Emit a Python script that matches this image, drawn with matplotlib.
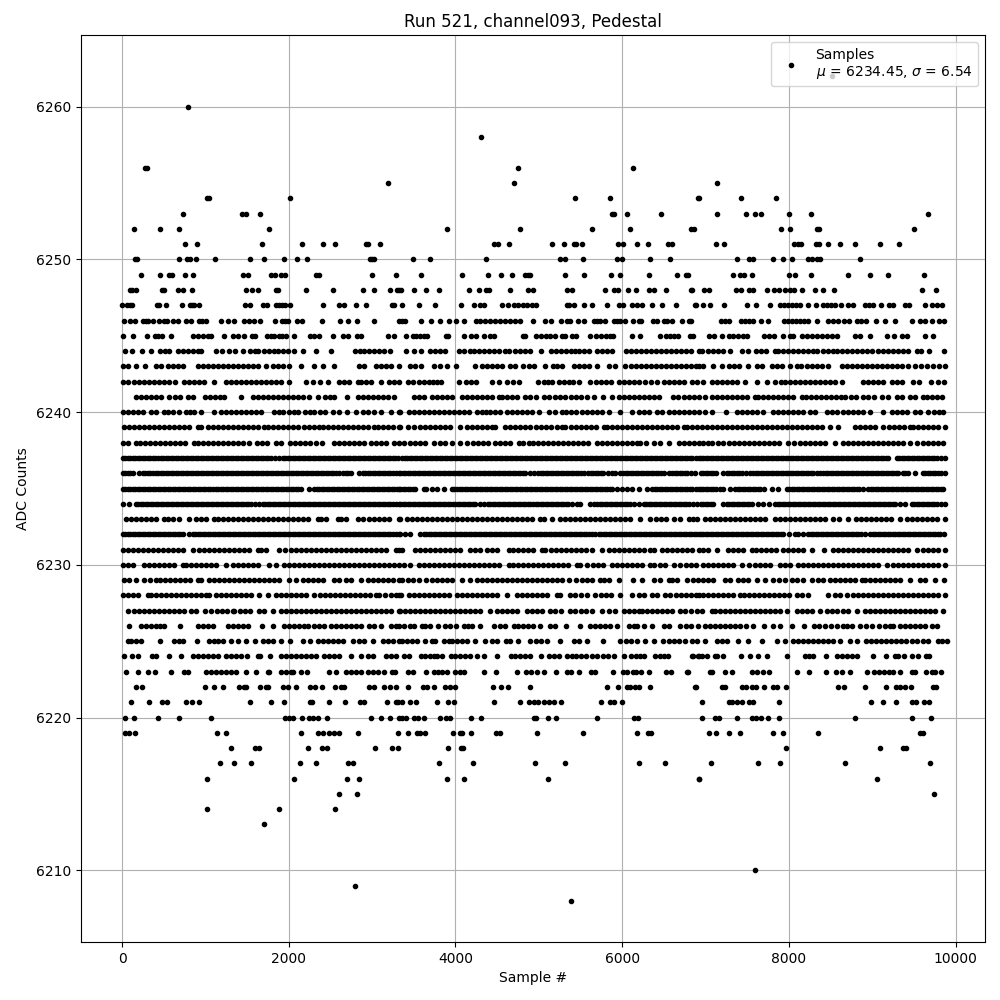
# -*- coding: utf-8 -*-
import numpy as np
import matplotlib
matplotlib.use('Agg')
import matplotlib.pyplot as plt

# sample numbers, one list per ADC level
s6262 = [8521]
s6260 = [795]
s6258 = [4301]
s6256 = [272,304,4745,6135]
s6255 = [3187,4697,7141]
s6254 = [1015,1047,2013,5431,5851,6919,6913,7429,7849]
s6253 = [731,1434,1486,1654,5879,5907,6055,6463,7141,7489,7597,7669,8005,8269,9673]
s6252 = [144,456,683,1762,3895,4771,5635,6091,6829,6865,7909,8017,8341,8365,9505]
s6251 = [755,899,1678,2157,2408,2552,2924,2952,3091,4459,4507,4639,5155,5299,5419,5443,5515,5947,6007,6175,6307,6547,6595,7129,7225,8065,8113,8149,8329,8365,8473,8617,8797,9097,9325]
s6250 = [160,184,683,783,811,891,1115,1534,1702,1941,2097,2217,2972,3000,3028,3487,3691,4363,5251,5311,5527,5935,5999,6331,6571,7381,7525,7573,7813,7933,8041,8233,8281,8341,8377,8857]
s6249 = [228,456,567,603,755,851,1450,1510,1785,1833,1905,1953,2325,2361,3000,3283,3583,4075,4387,4543,4675,4831,4867,4899,5311,5539,5863,5971,6319,6655,6763,6793,7333,7417,7465,7561,8005,8077,8269,8713,8977,9193,9625]
s6248 = [96,124,172,480,504,671,731,839,1486,1562,1630,1845,1869,2205,2528,2888,3020,3211,3295,3319,3347,3499,3643,3799,4159,4279,4363,4399,4651,4867,4927,5335,5395,5791,5899,5947,6067,6163,6319,6379,6523,6829,6835,6985,7045,7369,7429,7525,7573,7741,7825,7885,7957,8017,8065,8161,8317,8413,8545,9601,9769]
s6247 = [1,64,96,124,420,444,528,719,815,839,863,923,1474,1534,1690,1738,1845,1881,1917,1949,2013,2408,2600,2660,2804,2924,3235,3259,3359,3559,3751,4063,4219,4291,4339,4555,4627,4699,4747,4807,4855,4915,4963,5335,5359,5419,5539,5635,5815,5959,6007,6115,6175,6235,6355,6475,6643,6877,6883,6973,7057,7225,7501,7609,7777,7897,7945,7993,8041,8089,8137,8233,8329,8413,8461,8509,8557,8629,8713,8773,8917,8965,9013,9109,9205,9253,9397,9445,9637,9721,9781,9841]
s6246 = [17,96,156,252,284,312,376,444,504,543,611,671,767,827,923,959,1007,1187,1271,1343,1462,1522,1582,1654,1833,1917,1953,1989,2097,2157,2396,2612,2708,2816,3020,3319,3359,3395,3583,3703,3811,3919,4003,4099,4243,4299,4359,4419,4479,4539,4599,4659,4719,4779,4927,5071,5143,5263,5339,5379,5467,5539,5659,5699,5739,5791,5899,5939,5979,6039,6127,6199,6231,6367,6419,6499,6539,6595,6715,6799,6827,7189,7237,7285,7429,7477,7525,7573,7669,7753,7945,7993,8041,8089,8137,8185,8233,8341,8473,8533,8593,8665,8725,8821,8869,8929,9049,9157,9277,9481,9577,9637,9721,9805,9865]
s6245 = [5,136,300,396,432,480,591,851,911,971,1031,1067,1223,1331,1391,1462,1558,1594,1737,1781,1821,1881,1921,1969,2061,2252,2300,2361,2528,2648,2708,2816,2864,3187,3259,3403,3487,3527,3571,3619,3659,3883,3907,4099,4183,4243,4339,4411,4459,4807,4831,4963,5023,5083,5139,5199,5279,5319,5395,5443,5611,5683,5743,5803,5851,5887,6115,6211,6455,6523,6571,6619,6667,6811,6847,7045,7105,7201,7285,7333,7393,7453,7501,7705,7765,7825,7933,8017,8053,8161,8221,8281,8341,8401,8461,8521,8581,8797,8857,8977,9181,9265,9361,9421,9637,9733]
s6244 = [33,113,241,345,457,510,565,665,725,785,845,905,945,1125,1193,1285,1357,1453,1533,1590,1625,1705,1765,1825,1865,1925,1985,2065,2173,2325,2509,2797,2850,2905,2965,3025,3085,3145,3217,3403,3499,3583,3699,3760,3810,3871,4039,4100,4179,4219,4280,4340,4400,4460,4520,4599,4639,4719,4779,4840,4899,5031,5147,5210,5270,5330,5390,5439,5479,5540,5599,5699,5760,5820,5879,6051,6110,6170,6230,6290,6350,6410,6470,6530,6590,6650,6710,6770,6830,6919,6953,7033,7090,7150,7210,7293,7433,7513,7605,7670,7730,7833,7873,7930,7993,8045,8105,8165,8225,8285,8333,8413,8470,8533,8573,8635,8695,8753,8813,8875,8935,8995,9073,9133,9195,9255,9315,9375,9435,9533,9589,9685,9865]
s6243 = [5,65,165,277,405,465,545,605,665,725,905,965,1025,1085,1145,1205,1265,1325,1385,1445,1505,1565,1625,1725,1805,1865,1925,2005,2141,2305,2405,2545,2845,2905,3045,3105,3165,3225,3325,3451,3520,3587,3739,3819,3899,4003,4231,4319,4380,4440,4500,4560,4659,4719,4807,4879,4939,5071,5167,5220,5279,5419,5480,5540,5600,5699,5839,5919,6039,6100,6160,6220,6280,6340,6400,6460,6520,6580,6640,6700,6760,6820,6880,6919,6973,7093,7193,7285,7345,7405,7513,7613,7680,7793,7853,7913,8013,8093,8150,8213,8273,8340,8400,8473,8633,8695,8755,8815,8875,8935,8995,9055,9115,9175,9235,9295,9355,9433,9517,9590,9653,9733,9800,9873]
s6242 = [5,65,145,205,265,325,385,445,505,565,633,745,805,865,925,985,1105,1245,1305,1365,1425,1485,1545,1605,1665,1725,1785,1845,1905,2005,2205,2285,2377,2465,2605,2665,2725,2825,2865,2925,2985,3105,3205,3265,3325,3427,3490,3559,3619,3679,3727,3780,3827,4039,4127,4190,4247,4439,4519,4619,4690,4759,4987,5059,5110,5159,5239,5300,5359,5407,5479,5619,5680,5740,5800,5860,5959,6019,6080,6140,6199,6279,6350,6419,6499,6560,6620,6680,6739,6833,6900,6965,7073,7133,7195,7255,7315,7375,7473,7621,7741,7833,7900,7953,8013,8075,8135,8195,8255,8315,8375,8435,8495,8555,8633,8893,8955,9015,9075,9133,9233,9293,9361,9493,9565,9701,9793,9861]
s6241 = [165,225,285,345,405,465,565,633,695,785,845,993,1055,1115,1175,1225,1425,1565,1625,1685,1745,1805,1865,1925,1985,2045,2105,2165,2245,2345,2433,2490,2545,2701,2825,2885,2945,3005,3065,3125,3185,3265,3507,3565,3627,3719,3780,3840,3900,3959,4079,4140,4200,4260,4320,4380,4440,4519,4559,4620,4680,4740,4839,4899,4960,5059,5127,5190,5259,5319,5380,5440,5500,5579,5659,5771,5875,5959,6020,6080,6140,6200,6260,6320,6380,6439,6607,6667,6739,6800,6860,6919,6993,7073,7135,7195,7255,7315,7375,7435,7495,7593,7633,7695,7755,7815,7875,7935,7995,8055,8153,8205,8265,8325,8385,8445,8505,8565,8625,8673,8741,8800,8893,8953,9020,9113,9193,9293,9353,9453,9515,9613,9661,9715,9773,9833]
s6240 = [5,65,125,185,245,345,405,497,545,605,685,765,815,865,949,1097,1185,1245,1305,1365,1425,1485,1545,1605,1665,1825,1885,1925,2005,2060,2105,2193,2250,2305,2377,2440,2525,2605,2701,2805,2885,2945,3025,3105,3225,3325,3339,3439,3500,3559,3619,3680,3740,3800,3860,3920,3980,4040,4100,4159,4259,4320,4371,4419,4480,4539,4619,4679,4740,4800,4860,4920,4999,5119,5199,5279,5327,5390,5450,5519,5579,5640,5700,5759,5839,5975,6119,6199,6259,6320,6419,6479,6559,6619,6680,6740,6800,6860,6919,6993,7073,7241,7373,7433,7495,7555,7615,7693,7813,7875,7935,7995,8055,8115,8175,8253,8313,8453,8515,8575,8653,8713,8775,8835,8895,8973,9129,9233,9295,9355,9413,9513,9575,9673,9745,9800,9853]
s6239 = [25,85,145,205,265,325,385,445,505,565,625,685,745,805,905,945,1025,1085,1145,1205,1265,1325,1385,1445,1505,1565,1625,1705,1745,1805,1865,1925,1985,2045,2105,2185,2245,2305,2365,2405,2465,2525,2585,2645,2705,2765,2825,2885,2945,3025,3065,3125,3185,3245,3325,3339,3427,3499,3579,3640,3700,3760,3820,3880,3940,4051,4139,4200,4260,4320,4380,4439,4479,4599,4660,4720,4780,4840,4900,4960,5020,5080,5140,5219,5279,5319,5380,5440,5500,5560,5620,5680,5779,5819,5880,5940,6000,6060,6120,6180,6240,6300,6360,6420,6480,6540,6600,6660,6739,6779,6840,6899,6953,7015,7075,7135,7195,7255,7315,7375,7435,7495,7555,7615,7675,7735,7795,7855,7915,7975,8035,8095,8155,8215,8275,8335,8395,8493,8589,8793,8855,8915,8975,9035,9133,9205,9265,9325,9385,9453,9493,9555,9615,9675,9735,9795,9873]
s6238 = [5,65,165,217,280,340,400,460,520,580,640,700,760,865,905,965,1025,1085,1145,1205,1265,1325,1385,1445,1525,1617,1680,1740,1845,1905,2017,2080,2140,2200,2260,2325,2393,2537,2600,2660,2725,2785,2845,2905,2985,3045,3105,3165,3265,3325,3387,3459,3520,3580,3640,3739,3811,3879,3959,4059,4139,4211,4270,4330,4387,4479,4540,4600,4660,4759,4811,4879,4927,4990,5050,5110,5170,5230,5290,5350,5410,5470,5530,5590,5699,5759,5820,5880,5940,6000,6060,6120,6179,6219,6280,6379,6459,6559,6679,6740,6800,6860,6919,6975,7033,7081,7145,7213,7285,7345,7405,7465,7525,7585,7645,7705,7765,7825,7885,7993,8065,8133,8195,8255,8315,8375,8435,8553,8645,8705,8765,8825,8885,8945,9005,9065,9125,9185,9245,9305,9365,9453,9533,9605,9665,9725,9793,9845]
s6237 = [5,65,125,185,245,305,365,425,465,525,585,645,705,765,825,885,945,1005,1065,1125,1185,1245,1305,1365,1425,1485,1545,1605,1665,1725,1785,1885,1925,1985,2045,2105,2165,2225,2285,2345,2405,2465,2525,2585,2645,2705,2765,2825,2885,2945,3005,3065,3125,3185,3245,3305,3359,3420,3480,3540,3600,3660,3720,3780,3840,3900,3960,4020,4080,4140,4200,4260,4320,4380,4440,4500,4560,4620,4680,4740,4800,4860,4920,4980,5040,5100,5160,5220,5280,5340,5400,5460,5520,5580,5640,5700,5760,5820,5880,5940,6000,6060,6120,6180,6240,6300,6360,6420,6480,6540,6600,6660,6720,6780,6840,6919,6975,7035,7095,7155,7215,7275,7335,7395,7455,7515,7575,7635,7695,7755,7815,7875,7935,7995,8055,8115,8175,8235,8295,8355,8415,8475,8535,8595,8655,8715,8775,8835,8895,8955,9015,9075,9135,9193,9293,9355,9415,9475,9535,9595,9655,9715,9775,9873]
s6237b = [35,95,155,215,275,335,395,495,555,615,675,735,795,855,915,975,1035,1095,1155,1215,1275,1335,1395,1455,1515,1575,1635,1695,1755,1835,1955,2015,2075,2135,2195,2255,2315,2375,2435,2495,2555,2615,2675,2735,2795,2855,2915,2975,3035,3095,3155,3215,3275,3390,3450,3510,3570,3630,3690,3750,3810,3870,3930,3990,4050,4110,4170,4230,4290,4350,4410,4470,4530,4590,4650,4710,4770,4830,4890,4950,5010,5070,5130,5190,5250,5310,5370,5430,5490,5550,5610,5670,5730,5790,5850,5910,5970,6030,6090,6150,6210,6270,6330,6390,6450,6510,6570,6630,6690,6750,6810,6880,6945,7005,7065,7125,7185,7245,7305,7365,7425,7485,7545,7605,7665,7725,7785,7845,7905,7965,8025,8085,8145,8205,8265,8325,8385,8445,8505,8565,8625,8685,8745,8805,8865,8925,8985,9045,9105,9165,9325,9385,9445,9505,9565,9625,9685,9745,9825]
s6236 = [5,65,125,205,245,305,365,405,465,525,585,645,705,765,825,885,945,1005,1065,1125,1185,1245,1305,1365,1425,1485,1545,1605,1665,1725,1785,1845,1905,1965,2025,2085,2145,2205,2265,2325,2385,2445,2505,2565,2645,2685,2745,2845,2885,2945,3005,3065,3125,3185,3245,3325,3339,3400,3460,3520,3580,3640,3700,3760,3820,3880,3940,4000,4060,4120,4180,4240,4300,4360,4420,4480,4540,4600,4660,4720,4780,4840,4939,4987,5050,5110,5170,5230,5290,5350,5410,5470,5539,5587,5650,5710,5770,5879,5919,5979,6040,6100,6160,6220,6280,6340,6400,6460,6559,6599,6660,6720,6780,6879,6941,7005,7065,7125,7213,7253,7315,7375,7435,7533,7573,7635,7695,7755,7815,7875,7935,7995,8055,8115,8175,8235,8295,8373,8413,8475,8535,8595,8655,8715,8775,8835,8895,8955,9015,9075,9135,9195,9255,9313,9365,9425,9513,9605,9665,9725,9785,9873]
s6236b = [35,95,275,335,435,495,555,615,675,735,795,855,915,975,1035,1095,1155,1215,1275,1335,1395,1455,1515,1575,1635,1695,1755,1815,1875,1935,1995,2055,2115,2175,2235,2295,2355,2415,2475,2535,2600,2715,2915,2975,3035,3095,3155,3215,3285,3370,3430,3490,3550,3610,3670,3730,3790,3850,3910,3970,4030,4090,4150,4210,4270,4330,4390,4450,4510,4570,4630,4690,4750,4810,4890,5020,5080,5140,5200,5260,5320,5380,5440,5500,5620,5680,5740,5825,6010,6070,6130,6190,6250,6310,6370,6430,6500,6630,6690,6750,6830,6975,7035,7095,7285,7345,7405,7485,7605,7665,7725,7785,7845,7905,7965,8025,8085,8145,8205,8265,8335,8445,8505,8565,8625,8685,8745,8805,8865,8925,8985,9045,9105,9165,9225,9285,9395,9635,9695,9755,9830]
s6235 = [5,65,125,185,245,305,365,425,485,545,605,665,725,785,845,905,965,1025,1085,1125,1185,1245,1305,1365,1425,1485,1545,1605,1665,1725,1785,1845,1905,1965,2025,2085,2145,2245,2305,2365,2425,2485,2545,2605,2665,2725,2785,2845,2905,2965,3025,3085,3145,3205,3265,3325,3339,3400,3460,3520,3619,3651,3715,3775,3859,3959,4020,4080,4140,4200,4260,4320,4380,4440,4500,4560,4620,4680,4740,4800,4860,4920,4980,5040,5100,5160,5220,5280,5340,5400,5460,5520,5580,5640,5700,5760,5820,5880,5999,6059,6119,6199,6299,6359,6420,6480,6540,6600,6660,6720,6780,6840,6919,6975,7035,7095,7173,7213,7293,7353,7415,7475,7535,7595,7655,7793,7873,7973,8035,8095,8155,8215,8275,8335,8395,8455,8515,8575,8635,8695,8755,8815,8893,8953,9015,9075,9135,9195,9255,9315,9375,9435,9495,9555,9615,9675,9735,9795,9853]
s6235b = [35,95,155,215,275,335,395,455,515,575,635,695,755,815,875,935,995,1055,1155,1215,1275,1335,1395,1455,1515,1575,1635,1695,1755,1815,1875,1935,1995,2055,2115,2335,2395,2455,2515,2575,2635,2695,2755,2815,2875,2935,2995,3055,3115,3175,3235,3295,3370,3430,3490,3985,4050,4110,4170,4230,4290,4350,4410,4470,4530,4590,4650,4710,4770,4830,4890,4950,5010,5070,5130,5190,5250,5310,5370,5430,5490,5550,5610,5670,5730,5790,5850,5940,6390,6450,6510,6570,6630,6690,6750,6810,6880,6945,7005,7065,7130,7385,7445,7505,7565,7625,7700,8005,8065,8125,8185,8245,8305,8365,8425,8485,8545,8605,8665,8725,8785,8845,8985,9045,9105,9165,9225,9285,9345,9405,9465,9525,9585,9645,9705,9765,9825]
s6234 = [5,85,165,225,285,345,405,465,525,585,645,705,765,825,885,945,1005,1065,1125,1185,1245,1305,1365,1425,1485,1545,1645,1685,1745,1805,1865,1925,1985,2045,2105,2165,2225,2285,2345,2405,2465,2525,2585,2645,2705,2765,2825,2885,2945,3005,3065,3125,3185,3245,3325,3339,3400,3460,3520,3580,3640,3700,3760,3820,3880,3940,4000,4060,4120,4180,4240,4339,4387,4450,4510,4570,4630,4690,4750,4810,4870,4930,4990,5050,5110,5170,5230,5290,5350,5459,5499,5619,5667,5730,5790,5850,5910,5970,6030,6090,6199,6259,6320,6380,6440,6500,6560,6620,6680,6740,6800,6899,6975,7035,7095,7213,7253,7315,7375,7435,7495,7555,7693,7765,7833,7895,7955,8015,8075,8135,8195,8255,8315,8375,8435,8495,8555,8615,8675,8735,8795,8855,8915,8975,9035,9095,9155,9215,9275,9393,9473,9535,9595,9655,9715,9775,9873]
s6234b = [195,255,315,375,435,495,555,615,675,735,795,855,915,975,1035,1095,1155,1215,1275,1335,1395,1455,1515,1595,1715,1775,1835,1895,1955,2015,2075,2135,2195,2255,2315,2375,2435,2495,2555,2615,2675,2735,2795,2855,2915,2975,3035,3095,3155,3215,3285,3370,3430,3490,3550,3610,3670,3730,3790,3850,3910,3970,4030,4090,4150,4210,4290,4420,4480,4540,4600,4660,4720,4780,4840,4900,4960,5020,5080,5140,5200,5260,5320,5400,5700,5760,5820,5880,5940,6000,6060,6140,6290,6350,6410,6470,6530,6590,6650,6710,6770,6850,6945,7005,7065,7285,7345,7405,7465,7525,7625,7865,7925,7985,8045,8105,8165,8225,8285,8345,8405,8465,8525,8585,8645,8705,8765,8825,8885,8945,9005,9065,9125,9185,9245,9335,9505,9565,9625,9685,9745,9825]
s6233 = [45,105,165,225,285,345,405,505,545,605,685,805,885,945,1005,1105,1145,1205,1265,1325,1385,1445,1505,1565,1625,1685,1745,1805,1865,1925,1985,2045,2105,2165,2225,2345,2385,2445,2585,2625,2685,2825,2885,2965,3025,3085,3145,3205,3325,3339,3419,3479,3540,3600,3660,3720,3780,3840,3900,3960,4020,4080,4140,4200,4260,4320,4380,4440,4500,4560,4620,4680,4740,4800,4860,4920,5019,5059,5159,5251,5315,5375,5435,5495,5555,5615,5675,5735,5795,5855,5915,5975,6035,6095,6219,6339,6400,6460,6520,6619,6699,6799,6853,6901,6993,7055,7115,7175,7235,7295,7355,7415,7475,7535,7595,7655,7715,7833,7893,7955,8015,8075,8135,8195,8255,8315,8375,8435,8533,8605,8713,8805,8865,8925,8985,9045,9105,9165,9225,9333,9413,9475,9535,9595,9655,9715,9775,9873]
s6232 = [5,65,125,185,245,305,365,425,485,545,605,665,725,805,845,905,965,1025,1085,1145,1205,1265,1325,1385,1445,1505,1565,1625,1685,1745,1805,1865,1925,1985,2045,2105,2165,2225,2285,2345,2405,2465,2525,2585,2645,2705,2765,2825,2885,2945,3005,3065,3125,3185,3245,3325,3339,3400,3460,3579,3619,3680,3740,3800,3860,3920,3980,4040,4100,4160,4220,4280,4340,4400,4460,4520,4580,4640,4700,4760,4820,4880,4940,5000,5060,5120,5180,5240,5300,5360,5420,5480,5540,5600,5679,5719,5780,5840,5900,5960,6020,6080,6140,6200,6260,6320,6380,6440,6500,6560,6620,6680,6740,6800,6860,6919,6975,7035,7095,7155,7215,7275,7335,7395,7455,7515,7575,7635,7695,7755,7815,7875,7935,8073,8113,8173,8233,8295,8355,8415,8475,8535,8595,8655,8715,8775,8835,8913,8973,9035,9095,9155,9215,9275,9335,9395,9455,9515,9575,9635,9695,9755,9813,9861]
s6232b = [35,95,155,215,275,335,395,455,515,575,635,695,875,935,995,1055,1115,1175,1235,1295,1355,1415,1475,1535,1595,1655,1715,1775,1835,1895,1955,2015,2075,2135,2195,2255,2315,2375,2435,2495,2555,2615,2675,2735,2795,2855,2915,2975,3035,3095,3155,3215,3285,3650,3710,3770,3830,3890,3950,4010,4070,4130,4190,4250,4310,4370,4430,4490,4550,4610,4670,4730,4790,4850,4910,4970,5030,5090,5150,5210,5270,5330,5390,5450,5510,5570,5640,5750,5810,5870,5930,5990,6050,6110,6170,6230,6290,6350,6410,6470,6530,6590,6650,6710,6770,6830,6890,6945,7005,7065,7125,7185,7245,7305,7365,7425,7485,7545,7605,7665,7725,7785,7845,7905,8005,8265,8325,8385,8445,8505,8565,8625,8685,8745,8805,8870,9005,9065,9125,9185,9245,9305,9365,9425,9485,9545,9605,9665,9725,9785]
s6231 = [5,65,125,185,245,305,365,425,485,545,605,665,725,845,925,985,1045,1105,1165,1225,1285,1345,1405,1465,1525,1625,1665,1725,1885,1953,2025,2085,2145,2205,2265,2325,2385,2445,2505,2565,2625,2685,2745,2805,2865,2925,2985,3045,3105,3165,3285,3325,3359,3519,3579,3640,3700,3760,3820,3880,3940,4000,4060,4179,4239,4299,4379,4440,4500,4639,4687,4750,4810,4870,4930,5039,5079,5140,5200,5260,5320,5380,5440,5500,5560,5639,5759,5839,5900,5960,6020,6080,6140,6200,6260,6339,6379,6479,6539,6600,6660,6720,6780,6840,6919,6975,7035,7133,7273,7335,7395,7455,7553,7605,7670,7730,7790,7850,7933,7993,8055,8115,8175,8273,8425,8533,8595,8655,8715,8775,8835,8895,8955,9015,9075,9135,9195,9255,9315,9375,9435,9533,9613,9675,9735,9795,9873]
s6230 = [5,65,125,265,325,385,445,505,565,625,725,765,825,885,945,1005,1065,1125,1245,1325,1385,1445,1505,1565,1625,1765,1845,1945,2005,2065,2125,2185,2245,2305,2365,2425,2485,2545,2605,2665,2725,2785,2845,2905,2965,3025,3085,3145,3205,3265,3325,3387,3451,3559,3620,3680,3740,3800,3860,3920,3980,4040,4100,4160,4220,4280,4340,4400,4460,4520,4639,4687,4750,4810,4870,4930,4990,5050,5110,5170,5230,5290,5350,5459,5499,5579,5651,5715,5775,5879,5939,6000,6060,6120,6180,6240,6339,6387,6450,6510,6619,6699,6760,6820,6880,6975,7035,7095,7155,7215,7275,7335,7433,7525,7590,7650,7710,7770,7893,7953,8015,8113,8173,8235,8295,8355,8415,8475,8535,8595,8655,8715,8775,8835,8895,8955,9015,9075,9173,9253,9315,9375,9435,9495,9555,9615,9675,9735,9795,9873]
s6229 = [25,85,165,265,330,405,457,520,580,640,700,760,820,905,945,1045,1105,1165,1225,1285,1345,1405,1465,1525,1585,1645,1705,1765,1825,1885,2005,2085,2165,2230,2290,2350,2410,2545,2605,2685,2750,2865,2945,3005,3065,3125,3185,3245,3325,3359,3425,3491,3559,3651,3715,3775,3835,3895,3955,4079,4171,4259,4320,4380,4440,4500,4560,4620,4680,4740,4800,4860,4920,4980,5040,5100,5160,5220,5280,5359,5451,5515,5575,5635,5739,5779,5840,5959,6131,6235,6387,6450,6559,6599,6660,6779,6853,6915,6975,7035,7095,7233,7293,7393,7453,7515,7613,7717,7813,7880,7953,8033,8100,8173,8273,8353,8405,8493,8555,8615,8675,8735,8795,8873,8913,8975,9035,9095,9155,9215,9275,9335,9453,9573,9635,9753,9865]
s6228 = [5,65,125,185,305,345,405,465,525,585,645,705,765,825,885,945,1005,1045,1125,1185,1245,1305,1365,1425,1485,1545,1645,1745,1845,1905,1965,2025,2085,2145,2205,2305,2377,2440,2500,2560,2620,2680,2740,2800,2860,2920,2980,3045,3085,3150,3225,3285,3325,3351,3439,3500,3560,3620,3680,3740,3800,3860,3920,4019,4079,4140,4200,4260,4320,4380,4440,4500,4619,4739,4800,4860,4920,4980,5040,5100,5219,5259,5379,5439,5500,5579,5679,5740,5800,5860,5979,6119,6199,6260,6359,6419,6519,6579,6640,6700,6760,6820,6880,6919,6975,7035,7095,7155,7215,7275,7335,7413,7461,7525,7585,7645,7705,7765,7825,7885,7945,8005,8093,8153,8233,8473,8550,8613,8693,8773,8835,8895,8955,9015,9075,9135,9195,9255,9315,9375,9435,9495,9555,9615,9675,9735,9795,9873]
s6227 = [65,145,205,265,325,385,445,505,565,625,685,745,825,885,1000,1065,1137,1200,1260,1325,1345,1410,1470,1530,1645,1705,1805,1905,1965,2025,2085,2145,2205,2265,2325,2385,2445,2505,2565,2625,2685,2745,2805,2865,2925,2985,3045,3105,3165,3225,3325,3339,3400,3460,3520,3580,3640,3700,3760,3820,3880,3940,4000,4060,4120,4180,4240,4300,4419,4499,4559,4619,4679,4739,4859,4920,4980,5040,5139,5199,5260,5379,5439,5500,5560,5639,5759,5840,5919,6019,6079,6140,6199,6239,6300,6360,6420,6480,6540,6600,6699,6759,6820,6893,6960,7073,7113,7175,7235,7295,7355,7415,7475,7535,7595,7655,7715,7775,7835,7895,7973,8093,8155,8213,8273,8373,8453,8515,8573,8653,8713,8813,8913,8975,9035,9095,9155,9215,9275,9335,9395,9455,9515,9575,9635,9695,9755,9853]
s6226 = [85,225,285,345,405,460,505,697,905,965,1025,1085,1265,1325,1385,1445,1505,1673,1805,1945,2005,2065,2125,2185,2225,2305,2365,2425,2505,2565,2625,2685,2745,2805,2865,2965,3025,3105,3225,3285,3325,3379,3459,3507,3599,3639,3699,3787,3879,3939,4011,4099,4150,4199,4291,4459,4539,4600,4699,4747,4810,4870,4930,5019,5139,5199,5323,5491,5611,5675,5735,5795,5855,5939,6079,6139,6179,6259,6359,6499,6559,6699,6760,6820,6913,6993,7055,7115,7175,7235,7295,7355,7413,7485,7573,7705,7813,7893,8041,8181,8301,8365,8433,8501,8581,8645,8693,8755,8853,8921,9001,9085,9153,9210,9253,9333,9395,9455,9515,9575,9635,9713,9773]
s6225 = [65,105,165,225,457,625,680,725,901,1045,1105,1145,1205,1305,1385,1485,1593,1685,1745,1805,1905,2017,2173,2257,2345,2405,2465,2525,2585,2645,2765,2845,2905,3013,3125,3185,3245,3317,3359,3420,3480,3540,3639,3719,3759,3859,3919,3959,4020,4080,4140,4239,4351,4439,4499,4611,4651,4747,4899,4960,5020,5099,5251,5419,5480,5579,5767,5979,6040,6100,6179,6271,6379,6487,6559,6620,6680,6759,6839,6900,6993,7133,7195,7255,7393,7505,7673,7853,7957,8053,8115,8175,8235,8295,8355,8415,8475,8535,8613,8733,8813,8925,8985,9045,9105,9165,9225,9285,9345,9405,9473,9541,9613,9673,9793,9840,9893]
s6224 = [25,121,185,361,409,565,709,845,905,965,1025,1085,1145,1245,1305,1365,1425,1497,1633,1657,1773,1905,1965,2025,2085,2145,2205,2265,2329,2425,2485,2545,2605,2745,2865,2945,3005,3169,3225,3289,3379,3439,3587,3639,3691,3739,3779,3839,3947,3999,4059,4119,4171,4255,4339,4495,4663,4719,4779,4839,4899,5023,5119,5179,5239,5335,5395,5443,5503,5571,5639,5699,5767,5827,5899,6019,6103,6163,6211,6259,6391,6451,6499,6547,6841,6847,6913,6919,6961,7013,7117,7141,7213,7429,7537,7633,7741,7981,8197,8245,8293,8449,8581,8641,8701,8761,8821,9013,9169,9277,9313,9385,9481,9553,9649,9685]
s6223 = [49,185,313,397,589,745,793,1009,1065,1125,1185,1245,1305,1365,1489,1609,1745,1765,1909,1965,2025,2053,2149,2221,2485,2565,2685,2745,2805,2865,2945,3005,3065,3145,3233,3273,3427,3487,3643,3739,3787,3839,3899,3991,4051,4099,4339,4483,4735,4843,4907,4979,5059,5203,5335,5383,5479,5623,5671,5887,6007,6059,6127,6163,6223,6319,6523,6583,6781,6787,7057,7081,7237,7321,7561,7621,7693,7765,8101,8245,8449,8569,8641,8737,8941,9025,9085,9145,9205,9253,9337,9481,9517,9649,9721,9757,9829]
s6222 = [169,241,997,1105,1213,1405,1465,1489,1657,1725,1753,1933,1993,2089,2257,2317,2401,2557,2629,2665,2965,3025,3145,3217,3289,3427,3607,3659,3739,3871,3939,3991,4447,4543,4627,4891,5815,5947,6059,6091,6151,6199,6331,6877,6883,7201,7237,7441,7489,7561,7609,7705,7813,7861,7969,8593,8665,8917,9169,9289,9337,9397,9469,9733,9769]
s6221 = [109,325,481,541,769,841,925,1537,1789,1945,2257,2281,2485,2677,2857,2905,3181,3289,3313,3363,3451,3523,3775,3907,3979,4459,4771,4879,4939,4987,5059,5119,5179,5263,5743,5851,5899,5995,6961,7285,7321,7381,7441,7525,7573,7885,8989,9133,9289,9481,9529,9625,9685]
s6220 = [37,145,433,685,1069,1957,2005,2045,2161,2245,2293,2345,2461,2989,3109,3217,3325,3359,3403,3499,3547,3619,3811,3883,3931,4183,4303,4939,4963,5107,5203,5695,6139,6187,6961,7117,7165,7381,7561,7609,7669,7753,7885,8797,9481,9709]
s6219 = [37,85,157,1141,1249,2149,2353,2413,2485,2545,2605,2833,3313,3427,3535,3571,3631,3967,4051,4075,4183,4483,4531,4975,5527,6175,6307,6343,7045,7129,7285,7417,7813,7933,8353,9577,9613]
s6218 = [1309,1597,1645,2233,2401,2461,3037,3241,3313,3907,4063,4087,7969,9097,9373,9409]
s6217 = [1177,1345,1549,2137,2329,2713,2773,3799,4207,4951,5311,6199,6511,7069,7633,7897,8677,9697]
s6216 = [1021,2065,2701,2845,3895,4099,5107,6919,6925,9061]
s6215 = [2605,2821,9745]
s6214 = [1021,1885,2557]
s6213 = [1705]
s6210 = [7597]
s6209 = [2797]
s6208 = [5383]

levels = [6262,6260,6258,6256,6255,6254,6253,6252,6251,6250,6249,6248,6247,6246,6245,6244,6243,6242,6241,6240,6239,6238,6237,6237,6236,6236,6235,6235,6234,6234,6233,6232,6232,6231,6230,6229,6228,6227,6226,6225,6224,6223,6222,6221,6220,6219,6218,6217,6216,6215,6214,6213,6210,6209,6208]
rows = [s6262,s6260,s6258,s6256,s6255,s6254,s6253,s6252,s6251,s6250,s6249,s6248,s6247,s6246,s6245,s6244,s6243,s6242,s6241,s6240,s6239,s6238,s6237,s6237b,s6236,s6236b,s6235,s6235b,s6234,s6234b,s6233,s6232,s6232b,s6231,s6230,s6229,s6228,s6227,s6226,s6225,s6224,s6223,s6222,s6221,s6220,s6219,s6218,s6217,s6216,s6215,s6214,s6213,s6210,s6209,s6208]

x = np.concatenate([np.array(r) for r in rows])
y = np.concatenate([np.full(len(r), l) for r, l in zip(rows, levels)])

plt.figure(figsize=(10, 10))
plt.plot(x, y, 'k.', label='Samples\n$\\mu$ = 6234.45, $\\sigma$ = 6.54')
plt.title('Run 521, channel093, Pedestal')
plt.xlabel('Sample #')
plt.ylabel('ADC Counts')
plt.grid(True)
plt.legend(loc='upper right')
plt.xlim(-493, 10353)
plt.ylim(6205.3, 6264.7)
plt.subplots_adjust(left=0.081, right=0.985, top=0.965, bottom=0.058)
plt.savefig('out.png', dpi=100)
